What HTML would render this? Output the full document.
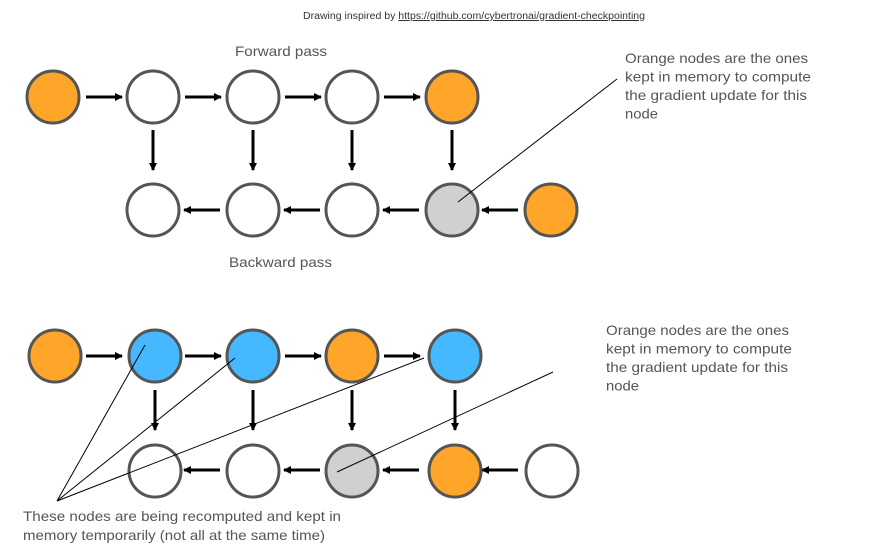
<!DOCTYPE html>
<html><head><meta charset="utf-8"><style>
html,body{margin:0;padding:0;background:#fff;}
svg{display:block;font-family:"Liberation Sans",sans-serif;}
</style></head><body>
<svg width="892" height="556" viewBox="0 0 892 556" xmlns="http://www.w3.org/2000/svg">
<defs>
<marker id="a" markerWidth="8" markerHeight="8" refX="7" refY="4" orient="auto" markerUnits="userSpaceOnUse"><path d="M0,0 L8,4 L0,8 z" fill="#000"/></marker>
</defs>
<text x="303" y="19" font-size="10" fill="#333" textLength="342" lengthAdjust="spacingAndGlyphs">Drawing inspired by <tspan text-decoration="underline">https://github.com/cybertronai/gradient-checkpointing</tspan></text>
<text x="235" y="56" font-size="14" fill="#555" textLength="92" lengthAdjust="spacingAndGlyphs">Forward pass</text>
<text x="229" y="267" font-size="14" fill="#555" textLength="103" lengthAdjust="spacingAndGlyphs">Backward pass</text>
<g font-size="14" fill="#555">
<text x="625" y="63" textLength="183" lengthAdjust="spacingAndGlyphs">Orange nodes are the ones</text>
<text x="625" y="81.5" textLength="186" lengthAdjust="spacingAndGlyphs">kept in memory to compute</text>
<text x="625" y="100" textLength="182" lengthAdjust="spacingAndGlyphs">the gradient update for this</text>
<text x="625" y="118.5" textLength="33" lengthAdjust="spacingAndGlyphs">node</text>
<text x="606" y="335" textLength="183" lengthAdjust="spacingAndGlyphs">Orange nodes are the ones</text>
<text x="606" y="353.5" textLength="186" lengthAdjust="spacingAndGlyphs">kept in memory to compute</text>
<text x="606" y="372" textLength="182" lengthAdjust="spacingAndGlyphs">the gradient update for this</text>
<text x="606" y="390.5" textLength="33" lengthAdjust="spacingAndGlyphs">node</text>
<text x="23" y="521" textLength="318" lengthAdjust="spacingAndGlyphs">These nodes are being recomputed and kept in</text>
<text x="23" y="540" textLength="302" lengthAdjust="spacingAndGlyphs">memory temporarily (not all at the same time)</text>
</g>
<g stroke="#000" stroke-width="3" marker-end="url(#a)">
<line x1="86" y1="97" x2="122" y2="97"/><line x1="185" y1="97" x2="221" y2="97"/><line x1="285" y1="97" x2="321" y2="97"/><line x1="384" y1="97" x2="420" y2="97"/>
<line x1="153" y1="130" x2="153" y2="170"/><line x1="253" y1="130" x2="253" y2="170"/><line x1="352" y1="130" x2="352" y2="170"/><line x1="452" y1="130" x2="452" y2="170"/>
<line x1="220" y1="210" x2="184" y2="210"/><line x1="320" y1="210" x2="284" y2="210"/><line x1="419" y1="210" x2="383" y2="210"/><line x1="518" y1="210" x2="482" y2="210"/>
<line x1="86" y1="356" x2="122" y2="356"/><line x1="185" y1="356" x2="221" y2="356"/><line x1="285" y1="356" x2="321" y2="356"/><line x1="384" y1="356" x2="420" y2="356"/>
<line x1="155" y1="390" x2="155" y2="430"/><line x1="253" y1="390" x2="253" y2="430"/><line x1="352" y1="390" x2="352" y2="430"/><line x1="455" y1="390" x2="455" y2="430"/>
<line x1="220" y1="470" x2="184" y2="470"/><line x1="320" y1="470" x2="284" y2="470"/><line x1="419" y1="470" x2="383" y2="470"/><line x1="518" y1="470" x2="482" y2="470"/>
</g>
<g stroke="#555" stroke-width="3">
<circle cx="53" cy="97" r="26" fill="#FFA52A"/>
<circle cx="153" cy="97" r="26" fill="#fff"/>
<circle cx="253" cy="97" r="26" fill="#fff"/>
<circle cx="352" cy="97" r="26" fill="#fff"/>
<circle cx="452" cy="97" r="26" fill="#FFA52A"/>
<circle cx="153" cy="210" r="26" fill="#fff"/>
<circle cx="253" cy="210" r="26" fill="#fff"/>
<circle cx="352" cy="210" r="26" fill="#fff"/>
<circle cx="452" cy="210" r="26" fill="#D0D0D0"/>
<circle cx="551" cy="210" r="26" fill="#FFA52A"/>
<circle cx="55" cy="356" r="26" fill="#FFA52A"/>
<circle cx="155" cy="356" r="26" fill="#45B8FF"/>
<circle cx="253" cy="356" r="26" fill="#45B8FF"/>
<circle cx="352" cy="356" r="26" fill="#FFA52A"/>
<circle cx="455" cy="356" r="26" fill="#45B8FF"/>
<circle cx="155" cy="471" r="26" fill="#fff"/>
<circle cx="253" cy="471" r="26" fill="#fff"/>
<circle cx="352" cy="471" r="26" fill="#D0D0D0"/>
<circle cx="455" cy="471" r="26" fill="#FFA52A"/>
<circle cx="552" cy="471" r="26" fill="#fff"/>
</g>
<g stroke="#000" stroke-width="1">
<line x1="458" y1="202" x2="617" y2="79"/>
<line x1="57" y1="501" x2="145" y2="345"/>
<line x1="57" y1="501" x2="235" y2="358"/>
<line x1="57" y1="501" x2="424" y2="358"/>
<line x1="337" y1="472" x2="553" y2="372"/>
</g>
</svg>
</body></html>
